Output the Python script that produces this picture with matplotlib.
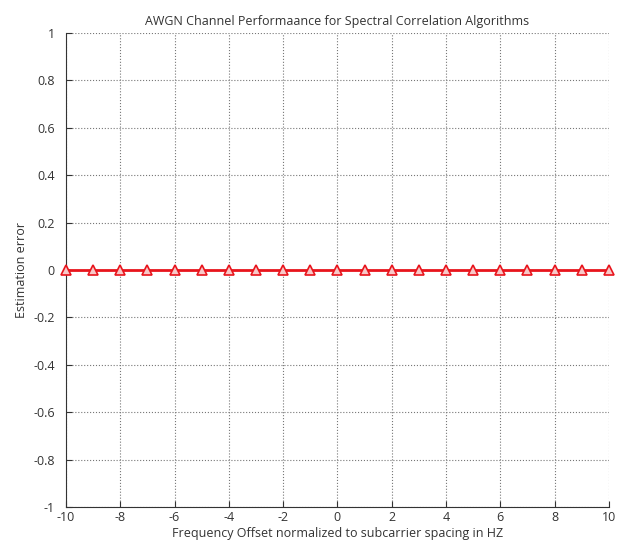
import numpy as np
import matplotlib.pyplot as plt

# frequency offsets and estimation error
offsets = list(range(-10, 11))
errors = [0.0] * len(offsets)

xticks = list(range(-10, 11, 2))
yticks = [-1, -0.8, -0.6, -0.4, -0.2, 0, 0.2, 0.4, 0.6, 0.8, 1]

plt.rcParams['font.family'] = ['Open Sans', 'DejaVu Sans']
plt.rcParams['axes.unicode_minus'] = False

fig = plt.figure(figsize=(6.19, 5.43), dpi=100)
ax = fig.add_axes([0.1066, 0.0663, 0.877, 0.873])

ax.plot(offsets, errors, color='#e8141c', linewidth=2, marker='^',
        markersize=7, markerfacecolor='#f7c8c8', markeredgecolor='#e8141c',
        markeredgewidth=1.2, clip_on=False, zorder=3)

ax.set_xlim(-10, 10)
ax.set_ylim(-1, 1)
ax.set_xticks(xticks)
ax.set_yticks(yticks)
ax.set_yticklabels(['-1', '-0.8', '-0.6', '-0.4', '-0.2', '0', '0.2', '0.4', '0.6', '0.8', '1'])
ax.grid(True, linestyle=':', color='#777777', linewidth=0.8)
ax.spines['top'].set_visible(False)
ax.spines['right'].set_visible(False)
ax.spines['left'].set_color('#333333')
ax.spines['bottom'].set_color('#333333')
ax.tick_params(direction='in', length=4, labelsize=9, colors='#333333')
ax.tick_params(axis='x', pad=3)
ax.tick_params(axis='y', pad=8)

ax.set_title('AWGN Channel Performaance for Spectral Correlation Algorithms',
             fontsize=9, color='#333333')
ax.set_xlabel('Frequency Offset normalized to subcarrier spacing in HZ',
              fontsize=9, color='#333333', labelpad=2)
ax.set_ylabel('Estimation error', fontsize=9, color='#333333')

fig.savefig('out.png', dpi=100)
